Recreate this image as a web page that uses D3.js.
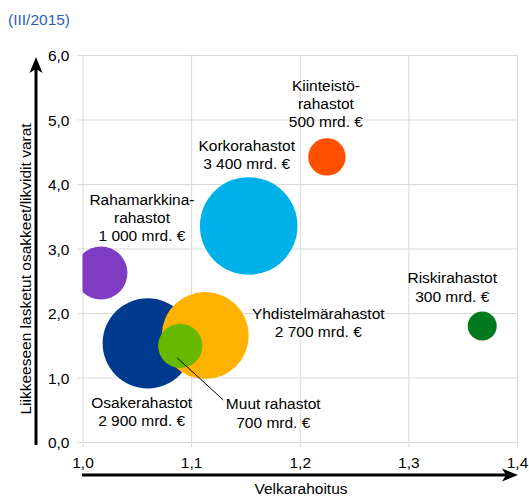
<!DOCTYPE html>
<html>
<head>
<meta charset="utf-8">
<script src="https://cdn.jsdelivr.net/npm/d3@7"></script>
<style>
  body { margin: 0; background: #fff; }
  text { font-family: "Liberation Sans", Arial, sans-serif; font-size: 15.5px; fill: #000; }
</style>
</head>
<body>
<script>
// rahastot, III/2015
var funds     = ["Rahamarkkinarahastot", "Osakerahastot", "Yhdistelmärahastot", "Muut rahastot", "Korkorahastot", "Kiinteistörahastot", "Riskirahastot"]
var leverage  = [1.017, 1.060, 1.113, 1.090, 1.153, 1.225, 1.368]
var liquidity = [2.62, 1.53, 1.65, 1.49, 3.35, 4.42, 1.80]
var assets    = [1000, 2900, 2700, 700, 3400, 500, 300]
var labelLines = [
  ["Rahamarkkina-", "rahastot", "1 000 mrd. €"],
  ["Osakerahastot", "2 900 mrd. €"],
  ["Yhdistelmärahastot", "2 700 mrd. €"],
  ["Muut rahastot", "700 mrd. €"],
  ["Korkorahastot", "3 400 mrd. €"],
  ["Kiinteistö-", "rahastot", "500 mrd. €"],
  ["Riskirahastot", "300 mrd. €"]
]
var xTicks = [1.0, 1.1, 1.2, 1.3, 1.4]
var yTicks = [0, 1, 2, 3, 4, 5, 6]

var colors = ["#7e3cc2", "#003a8f", "#ffb300", "#66b800", "#00b0e8", "#ff4f00", "#007a1f"]
// label offset (px) of first line centre from bubble centre
var labelOffsets = [[41, -74], [-6, 59], [113, -22], [93, 58], [-2, -81], [-1, -72], [-30, -48]]

var data = funds.map(function(f, i){
  return {name: f, x: leverage[i], y: liquidity[i], v: assets[i], lines: labelLines[i], color: colors[i], off: labelOffsets[i]}
})

var W = 529, H = 497
var margin = {top: 55, left: 82.5, right: 12, bottom: 55}
var width = W - margin.left - margin.right
var height = H - margin.top - margin.bottom

var svg = d3.select("body").append("svg").attr("width", W).attr("height", H)

svg.append("text").attr("x", 8).attr("y", 25)
    .style("fill", "#2f5fb3").style("font-size", "15.5px")
    .text("(III/2015)")

var g = svg.append("g").attr("transform", "translate(" + margin.left + "," + margin.top + ")")

var x = d3.scaleLinear().domain([1.0, 1.4]).range([0, width])
var y = d3.scaleLinear().domain([0, 6]).range([height, 0])
var r = d3.scaleSqrt().domain([0, 3400]).range([0, 48.8])

var fmt = function(d){ return d3.format(".1f")(d).replace(".", ",") }

// grid + axes
var yAxis = d3.axisLeft(y).tickValues(yTicks).tickFormat(fmt).tickSizeInner(-width).tickSizeOuter(0).tickPadding(13)
var xAxis = d3.axisBottom(x).tickValues(xTicks).tickFormat(fmt).tickSizeInner(-height).tickSizeOuter(0)

var gy = g.append("g").call(yAxis)
gy.selectAll(".tick line").attr("x1", -5).attr("stroke", "#d9d9d9")
gy.selectAll(".tick text").attr("dy", "0.36em")

var gx = g.append("g").attr("transform", "translate(0," + height + ")").call(xAxis)
gx.selectAll(".tick line").attr("y1", 5).attr("stroke", "#d9d9d9")
gx.selectAll(".tick text").attr("y", 26).attr("dy", null)

g.selectAll(".domain").remove()

// bubbles
g.append("clipPath").attr("id", "plot-clip")
  .append("rect").attr("width", width).attr("height", height)

g.append("g").attr("clip-path", "url(#plot-clip)")
  .selectAll("circle").data(data).enter()
  .append("circle")
    .attr("cx", function(d){ return x(d.x) })
    .attr("cy", function(d){ return y(d.y) })
    .attr("r", function(d){ return r(d.v) })
    .attr("fill", function(d){ return d.color })

// leader line for "Muut rahastot"
var muut = data[3]
g.append("line")
    .attr("x1", x(muut.x) - 3).attr("y1", y(muut.y) + 12)
    .attr("x2", x(muut.x) + 43).attr("y2", y(muut.y) + 54)
    .attr("stroke", "#000").attr("stroke-width", 1)

// labels
var lab = g.selectAll(".lab").data(data).enter()
  .append("text").attr("class", "lab")
    .attr("text-anchor", "middle")
    .attr("transform", function(d){
      return "translate(" + (x(d.x) + d.off[0]) + "," + (y(d.y) + d.off[1]) + ")" })
lab.selectAll("tspan").data(function(d){ return d.lines }).enter()
  .append("tspan")
    .attr("x", 0)
    .attr("y", function(d, i){ return i * 18.3 })
    .attr("dy", "0.36em")
    .text(function(d){ return d })

// axis arrows
svg.append("line").attr("x1", 36).attr("x2", 36).attr("y1", 445).attr("y2", 66)
    .attr("stroke", "#000").attr("stroke-width", 3)
svg.append("path").attr("d", "M36,57 L42.5,73 L36,69 L29.5,73 Z").attr("fill", "#000")

svg.append("line").attr("x1", 82).attr("x2", 508).attr("y1", 475).attr("y2", 475)
    .attr("stroke", "#000").attr("stroke-width", 3)
svg.append("path").attr("d", "M518,475 L502,468.5 L506,475 L502,481.5 Z").attr("fill", "#000")

svg.append("text").attr("text-anchor", "middle")
    .attr("transform", "translate(25,269) rotate(-90)")
    .attr("dy", "0.36em")
    .text("Liikkeeseen lasketut osakkeet/likvidit varat")

svg.append("text").attr("text-anchor", "middle")
    .attr("x", 301).attr("y", 494)
    .text("Velkarahoitus")
</script>
</body>
</html>
